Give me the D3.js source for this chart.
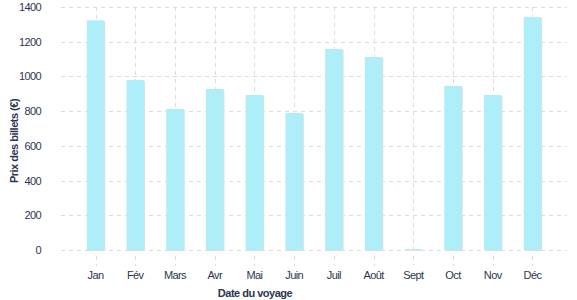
<!DOCTYPE html>
<html>
<head>
<meta charset="utf-8">
<script src="https://cdn.jsdelivr.net/npm/d3@7"></script>
<style>
  body { margin: 0; background: #fff; }
  text { font-family: "Liberation Sans", Arial, sans-serif; fill: #2b3553; }
</style>
</head>
<body>
<svg id="chart" width="577" height="300"></svg>
<script>
// data
const months = ['Jan', 'Fév', 'Mars', 'Avr', 'Mai', 'Juin', 'Juil', 'Août', 'Sept', 'Oct', 'Nov', 'Déc'];
const prices = [1323, 979, 812, 928, 893, 789, 1158, 1112, 5, 945, 893, 1342];
const yTicks = [0, 200, 400, 600, 800, 1000, 1200, 1400];

const svg = d3.select('#chart');
const plotLeft = 61, plotRight = 567, plotTop = 7, plotBottom = 250;

const x = d3.scaleBand()
  .domain(months)
  .range([plotLeft, plotRight])
  .paddingInner(0.56)
  .paddingOuter(0.65);

const y = d3.scaleLinear()
  .domain([0, 1400])
  .range([plotBottom, plotTop]);

const cx = d => Math.round(x(d) + x.bandwidth() / 2) + 0.5;

// grid
const grid = svg.append('g')
  .attr('stroke', '#dcdcdc')
  .attr('stroke-dasharray', '4,4');

grid.selectAll('line.h')
  .data(yTicks)
  .enter().append('line')
  .attr('x1', plotLeft).attr('x2', plotRight)
  .attr('y1', d => Math.round(y(d)) + 0.5).attr('y2', d => Math.round(y(d)) + 0.5);

grid.selectAll('line.v')
  .data(months)
  .enter().append('line')
  .attr('x1', cx).attr('x2', cx)
  .attr('y1', plotTop).attr('y2', plotBottom);

// x ticks below the axis
grid.selectAll('line.t')
  .data(months)
  .enter().append('line')
  .attr('x1', cx).attr('x2', cx)
  .attr('y1', plotBottom + 6).attr('y2', plotBottom + 16);

// bar shadows then bars
svg.selectAll('rect.shadow')
  .data(prices)
  .enter().append('rect')
  .attr('x', (d, i) => x(months[i]) + 1)
  .attr('y', d => y(d) + 1)
  .attr('width', x.bandwidth())
  .attr('height', d => plotBottom - y(d))
  .attr('fill', '#dedede');

svg.selectAll('rect.bar')
  .data(prices)
  .enter().append('rect')
  .attr('x', (d, i) => x(months[i]))
  .attr('y', d => y(d))
  .attr('width', x.bandwidth())
  .attr('height', d => plotBottom - y(d))
  .attr('fill', '#adeef8');

// y labels
svg.selectAll('text.y')
  .data(yTicks)
  .enter().append('text')
  .attr('x', 41)
  .attr('y', d => y(d) + 4)
  .attr('text-anchor', 'end')
  .attr('font-size', 11)
  .attr('letter-spacing', -0.6)
  .text(d => d);

// x labels
svg.selectAll('text.x')
  .data(months)
  .enter().append('text')
  .attr('x', d => x(d) + x.bandwidth() / 2)
  .attr('y', 279)
  .attr('text-anchor', 'middle')
  .attr('font-size', 11)
  .attr('letter-spacing', -0.6)
  .text(d => d);

// axis titles
svg.append('text')
  .attr('x', 255).attr('y', 297)
  .attr('text-anchor', 'middle')
  .attr('font-size', 11)
  .attr('font-weight', 'bold')
  .attr('letter-spacing', -0.5)
  .text('Date du voyage');

svg.append('text')
  .attr('transform', 'translate(18,141) rotate(-90)')
  .attr('text-anchor', 'middle')
  .attr('font-size', 11)
  .attr('font-weight', 'bold')
  .attr('letter-spacing', -0.5)
  .text('Prix des billets (€)');
</script>
</body>
</html>
